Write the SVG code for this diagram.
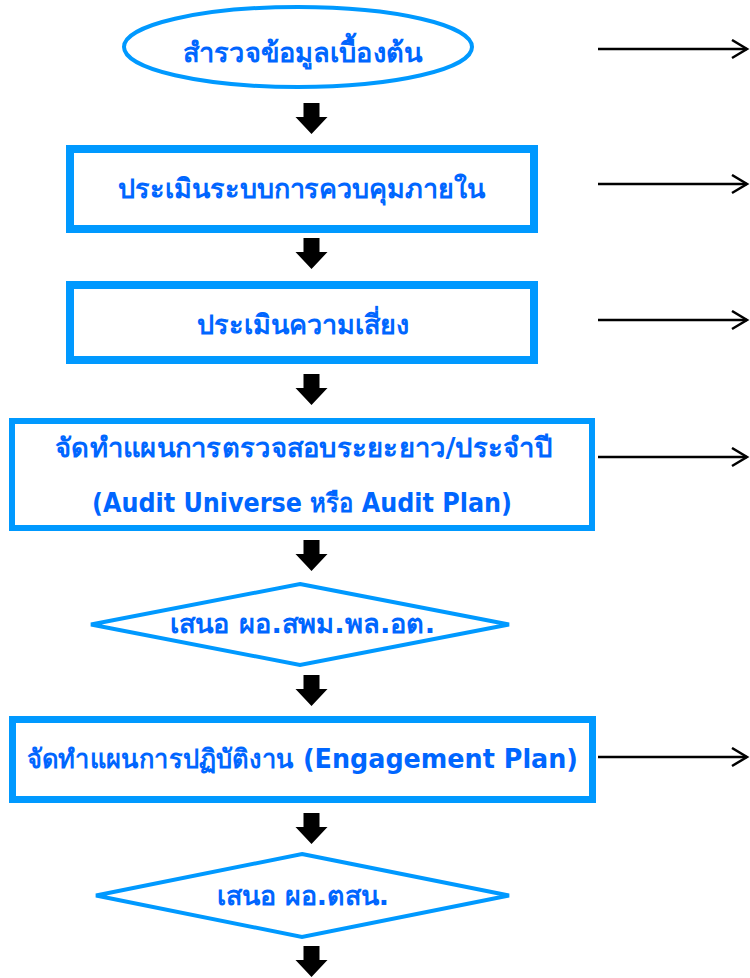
<svg xmlns="http://www.w3.org/2000/svg" width="750" height="978" viewBox="0 0 750 978">
<defs>
<style>
.t{font-family:Tahoma,"DejaVu Sans","Noto Sans",sans-serif;font-weight:bold;font-size:27px;fill:#0066FF;text-anchor:middle}
.m{font-size:26px}
.b{fill:#fff;stroke:#0099FF}
.h{stroke:#000;stroke-width:2.5;fill:none}
</style>
<marker id="open" markerWidth="20" markerHeight="22" refX="16" refY="10" orient="auto" markerUnits="userSpaceOnUse">
<path d="M1,1 L16,10 L1,19" fill="none" stroke="#000" stroke-width="2.5"/>
</marker>
<path id="blk" d="M-8,0 H8 V14 H16 L0,31 L-16,14 H-8 Z" fill="#000"/>
</defs>
<rect width="750" height="978" fill="#fff"/>
<g id="n1"><ellipse class="b" cx="298" cy="47" rx="174" ry="40" stroke-width="4"/><text class="t" x="302.5" y="62" textLength="239" lengthAdjust="spacingAndGlyphs">สำรวจข้อมูลเบื้องต้น</text></g>
<g id="n2"><rect class="b" x="70" y="149" width="464" height="80" stroke-width="8"/><text class="t" x="301.5" y="198" textLength="367" lengthAdjust="spacingAndGlyphs">ประเมินระบบการควบคุมภายใน</text></g>
<g id="n3"><rect class="b" x="70" y="285" width="464" height="75" stroke-width="8"/><text class="t" x="303" y="334" textLength="212" lengthAdjust="spacingAndGlyphs">ประเมินความเสี่ยง</text></g>
<g id="n4"><rect class="b" x="12" y="421" width="580" height="107" stroke-width="6"/><text class="t" x="303.5" y="457" textLength="497" lengthAdjust="spacingAndGlyphs">จัดทำแผนการตรวจสอบระยะยาว/ประจำปี</text><text class="t m" x="302" y="512" textLength="420" lengthAdjust="spacingAndGlyphs">(Audit Universe หรือ Audit Plan)</text></g>
<g id="n5"><polygon class="b" points="300,584 509,624.5 300,665 91,624.5" stroke-width="4"/><text class="t" x="302.5" y="633" textLength="265" lengthAdjust="spacingAndGlyphs">เสนอ ผอ.สพม.พล.อต.</text></g>
<g id="n6"><rect class="b" x="12.5" y="719.5" width="580" height="80" stroke-width="7"/><text class="t m" x="302.5" y="768" textLength="551" lengthAdjust="spacingAndGlyphs">จัดทำแผนการปฏิบัติงาน (Engagement Plan)</text></g>
<g id="n7"><polygon class="b" points="302,854 509,895.5 302,937 96,895.5" stroke-width="4"/><text class="t" x="303" y="905" textLength="172" lengthAdjust="spacingAndGlyphs">เสนอ ผอ.ตสน.</text></g>
<g id="connectors">
<use href="#blk" x="311.5" y="103"/>
<use href="#blk" x="311.5" y="238"/>
<use href="#blk" x="311.5" y="374"/>
<use href="#blk" x="311.5" y="540"/>
<use href="#blk" x="311.5" y="675"/>
<use href="#blk" x="311.5" y="813"/>
<use href="#blk" x="311.5" y="946"/>
<line class="h" x1="598" y1="49" x2="747" y2="49" marker-end="url(#open)"/>
<line class="h" x1="598" y1="184" x2="747" y2="184" marker-end="url(#open)"/>
<line class="h" x1="598" y1="320" x2="747" y2="320" marker-end="url(#open)"/>
<line class="h" x1="598" y1="457" x2="747" y2="457" marker-end="url(#open)"/>
<line class="h" x1="598" y1="757" x2="747" y2="757" marker-end="url(#open)"/>
</g>
</svg>
